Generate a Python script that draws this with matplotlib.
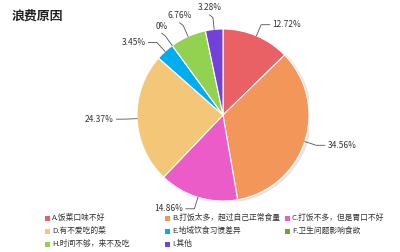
import numpy as np
import matplotlib
matplotlib.use("Agg")
import matplotlib.pyplot as plt

plt.rcParams['font.family'] = ['Noto Sans CJK SC', 'DejaVu Sans']

# Data
categories = ["A.饭菜口味不好", "B.打饭太多，超过自己正常食量", "C.打饭不多，但是胃口不好",
              "D.有不爱吃的菜", "E.地域饮食习惯差异", "F.卫生问题影响食欲",
              "H.时间不够，来不及吃", "I.其他"]
values = [12.72, 34.56, 14.86, 24.37, 3.45, 0.0, 6.76, 3.28]
labels = ["12.72%", "34.56%", "14.86%", "24.37%", "3.45%", "0%", "6.76%", "3.28%"]
colors = ["#EA6165", "#F3965A", "#EC5CC8", "#F4C778", "#00AEEF", "#5FA83A", "#93D250", "#7341D9"]

W, H = 400, 252
fig = plt.figure(figsize=(W / 100, H / 100), dpi=100)

# pie axes: centre (223,115) px, radius 86 px
cx, cy, R = 223, 115, 86
ax = fig.add_axes([(cx - R) / W, (H - cy - R) / H, 2 * R / W, 2 * R / H])

# faint shadow
shadow = plt.Circle((0.025, -0.015), 1.0, color="#000000", alpha=0.07, zorder=0)
ax.add_patch(shadow)

wedges, _ = ax.pie(values, colors=colors, startangle=90, counterclock=False,
                   radius=1.0, wedgeprops=dict(edgecolor="white", linewidth=0.8))
ax.set_xlim(-1, 1)
ax.set_ylim(-1, 1)
ax.axis("off")

total = sum(values)
start = 90.0
for v, lab in zip(values, labels):
    mid = np.deg2rad(start - v / total * 360 / 2)
    start -= v / total * 360
    c, s = np.cos(mid), np.sin(mid)
    p0 = (c * 1.0, s * 1.0)
    p1 = (c * 1.14, s * 1.14)
    side = 1 if c >= 0 else -1
    if s > 0.78 and c < 0:
        # crowded top-left labels sit above the elbow
        p2 = (p1[0] - 0.04, p1[1] + 0.03)
        ax.plot([p0[0], p1[0], p2[0]], [p0[1], p1[1], p2[1]], color="#555555", lw=0.6, clip_on=False)
        ax.text(p2[0], p2[1] + 0.03, lab, ha="center", va="bottom", fontsize=6.0, color="#333333")
    else:
        p2 = (p1[0] + side * 0.1, p1[1])
        ax.plot([p0[0], p1[0], p2[0]], [p0[1], p1[1], p2[1]], color="#555555", lw=0.6, clip_on=False)
        ax.text(p2[0] + side * 0.03, p2[1], lab, ha="left" if side > 0 else "right",
                va="center", fontsize=6.0, color="#333333")

# title
fig.text(12 / W, 1 - 16 / H, "浪费原因", fontsize=9.3, fontweight="bold", color="#222222",
         ha="left", va="center")

# legend: 3 columns
col_x = [47, 167, 287]
row_y = [218, 231, 244]
for i, (name, col) in enumerate(zip(categories, colors)):
    r, k = divmod(i, 3)
    x = col_x[k]
    y = row_y[r]
    fig.patches.append(plt.Rectangle(((x - 2.5) / W, 1 - (y + 2.5) / H), 5 / W, 5 / H,
                                     transform=fig.transFigure, facecolor=col, edgecolor="none"))
    fig.text((x + 5) / W, 1 - y / H, name, fontsize=5.6, color="#333333", ha="left", va="center")

fig.savefig("out.png", dpi=100)
